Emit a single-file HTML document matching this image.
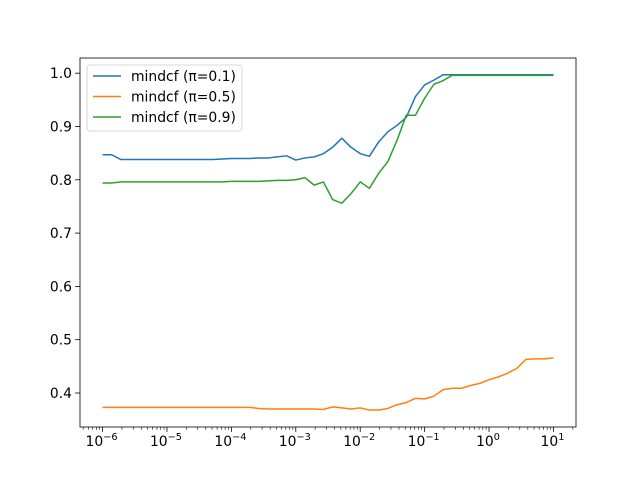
<!DOCTYPE html>
<html><head><meta charset="utf-8"><style>body{margin:0;background:#fff}svg{display:block;font-family:"DejaVu Sans","Liberation Sans",sans-serif}</style></head>
<body>
<svg id="chart" width="640" height="480" viewBox="0 0 640 480" xmlns="http://www.w3.org/2000/svg">
<rect width="640" height="480" fill="#fff"/>
<g id="plot"></g>
</svg>
<script>
const xExponents=[-6,-5,-4,-3,-2,-1,0,1];
const yTicks=[0.4,0.5,0.6,0.7,0.8,0.9,1.0];
const seriesNames=["mindcf (π=0.1)","mindcf (π=0.5)","mindcf (π=0.9)"];
const seriesColors=["#1f77b4","#ff7f0e","#2ca02c"];
const piLow=[.847,.847,.838,.838,.838,.838,.838,.838,.838,.838,.838,.838,.838,.839,.840,.840,.840,.841,.841,.843,.845,.837,.841,.843,.849,.861,.878,.861,.849,.844,.871,.890,.902,.917,.956,.978,.987,.997,.997,.997,.997,.997,.997,.997,.997,.997,.997,.997,.997,.997];
const piMid=[.373,.373,.373,.373,.373,.373,.373,.373,.373,.373,.373,.373,.373,.373,.373,.373,.373,.371,.370,.370,.370,.370,.370,.370,.369,.374,.372,.370,.372,.368,.368,.371,.378,.382,.390,.389,.394,.406,.409,.409,.414,.418,.425,.430,.437,.446,.463,.464,.464,.466];
const piHigh=[.794,.794,.796,.796,.796,.796,.796,.796,.796,.796,.796,.796,.796,.796,.797,.797,.797,.797,.798,.799,.799,.800,.804,.790,.796,.763,.756,.774,.796,.784,.812,.834,.874,.921,.921,.953,.979,.986,.996,.996,.996,.996,.996,.996,.996,.996,.996,.996,.996,.996];
const NS="http://www.w3.org/2000/svg";
const L=80,R=576,T=58,B=427;
const xLo=-6-0.35/7*7*0.05*7/0.35, xHi=1+(1-(-6))*0.05;
function xs(lg){const lo=-6-7*0.05;return L+(lg-lo)/(xHi-lo)*(R-L);}
const yLo=0.3362,yHi=1.0285;
function ys(v){return B-(v-yLo)/(yHi-yLo)*(B-T);}
const g=document.getElementById('plot');
function el(tag,attrs,parent){const e=document.createElementNS(NS,tag);for(const k in attrs)e.setAttribute(k,attrs[k]);(parent||g).appendChild(e);return e;}
// series
const allSeries=[piLow,piMid,piHigh];
allSeries.forEach((arr,s)=>{
  const n=arr.length;
  const pts=arr.map((v,i)=>{const lg=-6+7*i/(n-1);return xs(lg).toFixed(2)+","+ys(v).toFixed(2);}).join(" ");
  const p=el('polyline',{points:pts,fill:'none',stroke:seriesColors[s],'stroke-width':1.5,'stroke-linejoin':'round'});
  
  
});
// axes frame
const fr=el('rect',{x:L,y:T,width:R-L,height:B-T,fill:'none',stroke:'#000','stroke-width':0.8});


// x ticks
xExponents.forEach(e=>{
  const x=xs(e);
  el('line',{x1:x,x2:x,y1:B,y2:B+4.9,stroke:'#000','stroke-width':0.8});
  const t=el('text',{x:x-1,y:B+19,'font-size':13.9,'text-anchor':'middle',fill:'#000'});
  
  
  t.appendChild(document.createTextNode('10'));
  const sp=document.createElementNS(NS,'tspan');sp.setAttribute('dy','-6');sp.setAttribute('font-size','9.7');
  sp.textContent=(e<0?'\u2212'+(-e):''+e);t.appendChild(sp);
  for(let m=2;m<=9;m++){const xm=xs(e+Math.log10(m));if(xm>L&&xm<R)el('line',{x1:xm,x2:xm,y1:B,y2:B+2.8,stroke:'#000','stroke-width':0.6});}
});
for(let m=2;m<=9;m++){const xm=xs(-7+Math.log10(m));if(xm>L&&xm<R)el('line',{x1:xm,x2:xm,y1:B,y2:B+2.8,stroke:'#000','stroke-width':0.6});}
// y ticks
yTicks.forEach(v=>{
  const y=ys(v);
  el('line',{x1:L-4.9,x2:L,y1:y,y2:y,stroke:'#000','stroke-width':0.8});
  const t=el('text',{x:L-8,y:y+5,'font-size':13.9,'text-anchor':'end',fill:'#000'});
  
  
  t.textContent=v.toFixed(1);
});
// legend
const lg=el('g',{});


el('rect',{x:87,y:65,width:155,height:66,rx:3,fill:'#fff','fill-opacity':0.8,stroke:'#ccc','stroke-width':0.8},lg);
seriesNames.forEach((nm,i)=>{
  const y=76+i*20.5;
  const en=el('g',{},lg);
  
  
  el('line',{x1:93,x2:121,y1:y,y2:y,stroke:seriesColors[i],'stroke-width':1.5},en);
  const t=el('text',{x:131,y:y+5,'font-size':13.9,fill:'#000'},en);
  t.textContent=nm;
});
</script>
</body></html>
